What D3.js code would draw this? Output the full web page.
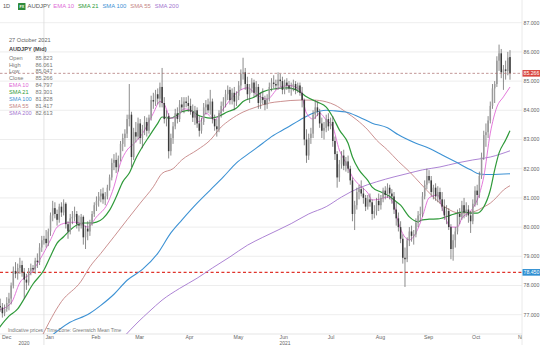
<!DOCTYPE html>
<html>
<head>
<meta charset="utf-8">
<script src="https://cdn.jsdelivr.net/npm/d3@7"></script>
<style>
  html, body { margin: 0; padding: 0; background: #fff; }
  svg { display: block; font-family: Arial, "Liberation Sans", sans-serif; }
</style>
</head>
<body>
<svg id="chart" width="540" height="345"></svg>
<script>
// ---- AUDJPY daily candles, 3 Dec 2020 - 27 Oct 2021 (weekdays) ----
const symbol = "AUDJPY";
const firstDay = "2020-12-03";
const tickEnd = "2021-11-02";

const opens = [
  // Dec
  77.20,77.30,77.25,77.05,77.20,77.40,77.55,78.00,78.50,78.40,78.60,78.70,78.45,78.20,78.10,78.50,78.60,78.55,78.85,78.80,79.30,
  // Jan
  79.55,79.60,79.45,79.85,80.40,80.65,80.45,80.25,80.70,80.50,80.80,80.10,79.85,80.30,80.35,80.45,80.10,80.05,80.35,79.65,79.95,
  // Feb
  79.85,80.15,80.45,80.75,80.90,81.05,81.15,80.95,81.05,81.35,81.70,82.20,82.30,82.05,82.35,82.85,83.05,83.20,83.70,83.85,
  // Mar
  82.40,83.25,83.10,83.55,83.05,83.35,83.60,83.30,83.75,84.35,84.30,84.55,84.40,84.80,84.25,83.70,83.80,82.60,83.05,83.45,83.90,83.70,84.20,
  // Apr
  84.10,84.30,84.25,84.15,83.95,83.75,84.00,83.55,83.30,83.60,84.10,84.20,84.00,84.30,83.70,83.45,83.35,83.90,84.15,84.30,84.55,84.70,
  // May
  84.35,84.60,84.30,84.50,84.85,85.25,85.30,84.90,84.55,84.75,84.95,84.60,84.80,84.25,84.45,84.35,84.20,84.40,84.80,84.95,84.90,
  // Jun
  84.85,85.05,85.00,84.70,84.95,84.85,84.75,84.80,84.90,84.70,84.85,84.60,84.35,83.00,82.45,83.05,83.20,83.85,84.10,83.95,83.55,83.30,
  // Jul
  83.40,83.70,83.45,83.60,82.95,82.50,81.70,82.15,82.45,82.10,82.25,82.00,81.60,80.45,80.75,81.20,81.30,81.15,81.00,80.70,80.95,80.85,
  // Aug
  80.45,80.55,80.90,80.75,81.00,81.25,81.10,81.35,81.15,81.05,80.60,80.30,80.00,79.60,78.95,78.90,79.55,79.85,79.70,79.75,80.15,80.40,
  // Sep
  80.45,81.05,81.45,81.75,81.60,81.20,81.35,81.05,81.20,80.95,80.70,80.40,80.55,80.00,79.25,79.55,79.85,80.45,80.35,80.75,80.50,80.60,
  // Oct
  80.40,80.20,80.80,81.25,81.10,81.75,82.40,83.15,83.25,83.65,84.15,84.75,84.90,85.70,85.95,85.30,85.40,85.35,85.823
];
const highs = [
  77.45,77.55,77.40,77.35,77.60,77.75,78.10,78.65,78.80,78.75,78.95,78.85,78.60,78.40,78.60,78.75,78.70,78.95,79.10,79.45,79.70,
  79.70,79.90,79.95,80.50,80.90,80.85,80.60,80.80,80.85,80.95,80.85,80.20,80.45,80.55,80.70,80.55,80.40,80.45,80.40,80.05,80.20,
  80.25,80.55,80.85,81.05,81.20,81.30,81.35,81.20,81.45,81.80,82.35,82.50,82.55,82.45,82.95,83.20,83.35,83.85,84.90,83.95,
  83.40,83.60,83.75,83.70,83.50,83.80,83.75,83.85,84.50,84.60,84.70,84.75,84.95,85.45,84.45,84.00,83.90,83.20,83.60,84.05,84.10,84.35,84.45,
  84.45,84.45,84.50,84.40,84.20,84.15,84.10,83.80,83.75,84.25,84.35,84.40,84.70,84.40,83.85,83.70,84.00,84.30,84.45,84.70,84.85,84.80,
  84.75,84.80,84.65,85.00,85.40,85.80,85.45,85.15,84.90,85.10,85.05,85.00,84.90,84.60,84.75,84.50,84.55,84.95,85.10,85.20,85.05,
  85.30,85.25,85.15,85.05,85.10,85.00,84.95,85.05,85.00,84.95,84.95,84.80,84.40,83.35,83.20,83.40,84.00,84.35,84.30,84.05,83.75,83.60,
  83.85,83.90,83.75,83.80,83.10,82.60,82.30,82.60,82.65,82.40,82.45,82.10,81.70,80.90,81.35,81.45,81.60,81.35,81.10,81.10,81.15,80.95,
  80.75,81.00,81.15,81.10,81.35,81.40,81.50,81.45,81.30,81.20,80.85,80.50,80.20,79.75,79.30,79.65,80.00,80.05,79.90,80.30,80.55,80.70,
  81.20,81.60,82.00,81.95,81.75,81.45,81.50,81.40,81.35,81.20,80.95,80.75,80.65,80.10,79.75,80.00,80.60,80.65,80.90,81.00,80.85,80.75,
  80.55,80.95,81.40,81.45,81.90,82.55,83.30,83.55,83.80,84.30,84.90,85.00,85.85,86.25,86.10,85.55,85.70,86.00,86.061
];
const lows = [
  76.95,77.10,76.90,76.95,77.10,77.15,77.35,77.90,78.25,78.20,78.40,78.30,77.55,77.85,78.00,78.35,78.45,78.40,78.60,78.70,79.15,
  79.40,79.30,79.35,79.70,80.20,80.30,80.05,80.15,80.35,80.40,79.95,79.60,79.75,80.10,80.20,79.95,79.85,79.95,79.40,79.25,79.55,
  79.70,80.05,80.35,80.55,80.70,80.85,80.80,80.75,80.95,81.25,81.60,81.95,81.85,81.90,82.25,82.60,82.75,83.05,83.45,82.05,
  82.30,82.90,83.00,82.85,82.70,83.15,83.10,83.20,83.65,84.05,84.15,84.20,84.10,84.10,83.55,83.45,82.35,82.45,82.85,83.35,83.55,83.60,83.95,
  83.90,84.10,83.95,83.85,83.60,83.50,83.40,83.10,83.20,83.50,83.85,83.90,83.85,83.55,83.30,83.10,83.25,83.75,83.95,84.10,84.35,84.20,
  84.20,84.00,84.15,84.35,84.70,85.05,84.70,84.35,84.25,84.60,84.45,84.45,84.05,84.05,84.20,84.00,84.05,84.30,84.65,84.75,84.70,
  84.70,84.80,84.55,84.55,84.70,84.60,84.50,84.65,84.55,84.60,84.50,84.10,82.80,82.20,82.30,82.85,83.05,83.70,83.80,83.40,83.05,83.00,
  83.25,83.30,83.35,82.75,82.30,81.35,81.55,82.00,81.95,81.90,81.85,81.45,80.20,79.90,80.60,80.95,81.05,80.80,80.55,80.60,80.70,80.25,
  80.30,80.40,80.55,80.60,80.85,80.95,81.00,80.95,80.80,80.45,80.05,79.85,79.45,78.75,77.95,78.80,79.35,79.50,79.40,79.65,80.00,80.20,
  80.35,80.95,81.30,81.50,81.05,80.95,80.90,80.85,80.80,80.55,80.25,80.10,79.90,78.90,78.85,79.30,79.75,80.10,80.25,80.30,80.35,80.15,
  79.80,80.10,80.70,80.75,81.00,81.65,82.30,82.75,83.05,83.55,84.05,84.25,84.80,85.35,85.10,84.70,85.05,85.20,85.047
];
const closes = [
  77.30,77.25,77.05,77.20,77.40,77.55,78.00,78.50,78.40,78.60,78.70,78.45,78.20,78.10,78.50,78.60,78.55,78.85,78.80,79.30,79.55,
  79.60,79.45,79.85,80.40,80.65,80.45,80.25,80.70,80.50,80.80,80.10,79.85,80.30,80.35,80.45,80.10,80.05,80.35,79.65,79.95,79.85,
  80.15,80.45,80.75,80.90,81.05,81.15,80.95,81.05,81.35,81.70,82.20,82.30,82.05,82.35,82.85,83.05,83.20,83.70,83.85,82.40,
  83.25,83.10,83.55,83.05,83.35,83.60,83.30,83.75,84.35,84.30,84.55,84.40,84.80,84.25,83.70,83.80,82.60,83.05,83.45,83.90,83.70,84.20,84.10,
  84.30,84.25,84.15,83.95,83.75,84.00,83.55,83.30,83.60,84.10,84.20,84.00,84.30,83.70,83.45,83.35,83.90,84.15,84.30,84.55,84.70,84.35,
  84.60,84.30,84.50,84.85,85.25,85.30,84.90,84.55,84.75,84.95,84.60,84.80,84.25,84.45,84.35,84.20,84.40,84.80,84.95,84.90,84.85,
  85.05,85.00,84.70,84.95,84.85,84.75,84.80,84.90,84.70,84.85,84.60,84.35,83.00,82.45,83.05,83.20,83.85,84.10,83.95,83.55,83.30,83.40,
  83.70,83.45,83.60,82.95,82.50,81.70,82.15,82.45,82.10,82.25,82.00,81.60,80.45,80.75,81.20,81.30,81.15,81.00,80.70,80.95,80.85,80.45,
  80.55,80.90,80.75,81.00,81.25,81.10,81.35,81.15,81.05,80.60,80.30,80.00,79.60,78.95,78.90,79.55,79.85,79.70,79.75,80.15,80.40,80.45,
  81.05,81.45,81.75,81.60,81.20,81.35,81.05,81.20,80.95,80.70,80.40,80.55,80.00,79.25,79.55,79.85,80.45,80.35,80.75,80.50,80.60,80.40,
  80.20,80.80,81.25,81.10,81.75,82.40,83.15,83.25,83.65,84.15,84.75,84.90,85.70,85.95,85.30,85.40,85.35,85.80,85.266
];

// ---- moving averages, [date, level] ----
const ema10 = [
  ["2020-12-03",77.15],["2020-12-11",77.40],["2020-12-17",78.10],["2020-12-24",78.42],["2020-12-30",78.87],
  ["2021-01-06",79.56],["2021-01-11",80.00],["2021-01-15",80.14],["2021-01-22",80.17],["2021-01-29",80.00],
  ["2021-02-04",80.35],["2021-02-11",80.80],["2021-02-16",81.38],["2021-02-19",82.20],["2021-02-24",82.64],
  ["2021-03-01",82.85],["2021-03-05",83.20],["2021-03-12",83.90],["2021-03-17",84.30],["2021-03-19",84.20],
  ["2021-03-24",83.73],["2021-03-29",83.77],["2021-04-01",84.05],["2021-04-07",83.95],["2021-04-12",83.60],
  ["2021-04-15",83.90],["2021-04-21",83.67],["2021-04-26",83.95],["2021-04-30",84.35],["2021-05-06",84.65],
  ["2021-05-12",84.77],["2021-05-18",84.55],["2021-05-25",84.38],["2021-06-01",84.75],["2021-06-08",84.85],
  ["2021-06-15",84.70],["2021-06-18",83.90],["2021-06-23",83.70],["2021-06-28",83.90],["2021-07-01",83.67],
  ["2021-07-06",83.43],["2021-07-09",82.64],["2021-07-14",82.20],["2021-07-19",81.72],["2021-07-22",81.45],
  ["2021-07-28",81.17],["2021-07-30",80.93],["2021-08-04",80.95],["2021-08-10",81.03],["2021-08-13",80.75],
  ["2021-08-17",80.15],["2021-08-24",79.56],["2021-08-27",79.80],["2021-09-01",80.35],["2021-09-06",81.00],
  ["2021-09-10",81.10],["2021-09-14",80.65],["2021-09-20",80.00],["2021-09-23",80.00],["2021-09-27",80.30],
  ["2021-10-01",80.55],["2021-10-06",80.93],["2021-10-11",81.72],["2021-10-14",83.22],["2021-10-19",84.11],
  ["2021-10-22",84.46],["2021-10-27",84.797]
];
const sma21 = [
  ["2020-12-03",76.50],["2020-12-10",76.95],["2020-12-16",77.20],["2020-12-21",77.55],["2020-12-25",78.05],
  ["2021-01-01",78.53],["2021-01-06",79.00],["2021-01-11",79.45],["2021-01-14",79.67],["2021-01-19",79.90],
  ["2021-01-22",80.07],["2021-01-27",80.14],["2021-02-01",80.14],["2021-02-04",80.17],["2021-02-09",80.30],
  ["2021-02-12",80.58],["2021-02-17",81.03],["2021-02-22",81.55],["2021-02-25",81.85],["2021-03-02",82.35],
  ["2021-03-05",82.75],["2021-03-10",83.10],["2021-03-16",83.55],["2021-03-18",83.77],["2021-03-24",83.73],
  ["2021-03-29",83.85],["2021-03-31",83.95],["2021-04-06",84.00],["2021-04-09",83.85],["2021-04-14",83.77],
  ["2021-04-19",83.73],["2021-04-22",83.77],["2021-04-29",83.95],["2021-05-05",84.08],["2021-05-10",84.30],
  ["2021-05-17",84.45],["2021-05-21",84.63],["2021-05-28",84.73],["2021-06-07",84.77],["2021-06-15",84.63],
  ["2021-06-18",84.46],["2021-06-25",84.28],["2021-07-01",84.11],["2021-07-06",83.77],["2021-07-09",83.33],
  ["2021-07-15",82.87],["2021-07-19",82.40],["2021-07-22",81.96],["2021-07-28",81.60],["2021-07-30",81.37],
  ["2021-08-05",81.20],["2021-08-10",81.10],["2021-08-13",80.93],["2021-08-18",80.75],["2021-08-24",80.35],
  ["2021-08-30",80.18],["2021-09-01",80.25],["2021-09-06",80.27],["2021-09-10",80.28],["2021-09-14",80.31],
  ["2021-09-20",80.41],["2021-09-23",80.48],["2021-09-28",80.52],["2021-10-01",80.48],["2021-10-06",80.48],
  ["2021-10-11",80.69],["2021-10-14",81.27],["2021-10-18",81.96],["2021-10-20",82.54],["2021-10-25",82.98],
  ["2021-10-27",83.301]
];
const sma100 = [
  ["2020-12-31",76.00],["2021-01-18",76.70],["2021-02-01",77.05],["2021-02-08",77.32],["2021-02-16",77.70],
  ["2021-02-24",78.18],["2021-03-05",78.55],["2021-03-16",79.10],["2021-03-24",79.80],["2021-03-31",80.24],
  ["2021-04-09",80.82],["2021-04-19",81.27],["2021-04-27",81.72],["2021-05-05",82.20],["2021-05-13",82.54],
  ["2021-05-21",82.87],["2021-05-27",83.10],["2021-06-07",83.40],["2021-06-15",83.67],["2021-06-23",83.90],
  ["2021-07-01",84.00],["2021-07-07",83.98],["2021-07-14",83.94],["2021-07-22",83.77],["2021-07-30",83.56],
  ["2021-08-10",83.40],["2021-08-17",83.16],["2021-08-27",82.87],["2021-09-06",82.70],["2021-09-14",82.47],
  ["2021-09-23",82.20],["2021-10-01",81.96],["2021-10-07",81.82],["2021-10-14",81.80],["2021-10-27",81.828]
];
const sma55 = [
  ["2020-12-31",76.25],["2021-01-13",77.45],["2021-01-26",78.15],["2021-02-01",78.64],["2021-02-08",79.10],
  ["2021-02-16",79.67],["2021-02-24",80.25],["2021-03-04",80.82],["2021-03-12",81.38],["2021-03-18",81.84],
  ["2021-03-25",82.00],["2021-03-31",82.30],["2021-04-09",82.64],["2021-04-19",82.98],["2021-04-26",83.43],
  ["2021-04-30",83.67],["2021-05-10",83.94],["2021-05-18",84.11],["2021-05-26",84.25],["2021-06-02",84.30],
  ["2021-06-15",84.35],["2021-06-23",84.35],["2021-07-01",84.29],["2021-07-07",84.18],["2021-07-14",83.94],
  ["2021-07-21",83.67],["2021-07-28",83.33],["2021-08-03",82.98],["2021-08-10",82.64],["2021-08-17",82.25],
  ["2021-08-24",81.90],["2021-08-31",81.50],["2021-09-08",81.03],["2021-09-16",80.65],["2021-09-24",80.48],
  ["2021-10-04",80.52],["2021-10-11",80.69],["2021-10-14",80.82],["2021-10-19",81.03],["2021-10-22",81.27],
  ["2021-10-27",81.417]
];
const sma200 = [
  ["2021-02-22",76.20],["2021-03-03",76.75],["2021-03-10",77.10],["2021-03-18",77.50],["2021-03-30",77.90],
  ["2021-04-09",78.25],["2021-04-20",78.60],["2021-04-30",78.98],["2021-05-12",79.38],["2021-05-21",79.65],
  ["2021-06-01",79.90],["2021-06-09",80.12],["2021-06-21",80.45],["2021-07-01",80.70],["2021-07-12",81.03],
  ["2021-07-22",81.34],["2021-08-03",81.55],["2021-08-13",81.72],["2021-08-24",81.85],["2021-09-01",81.96],
  ["2021-09-13",82.06],["2021-09-23",82.20],["2021-10-04",82.30],["2021-10-14",82.40],["2021-10-27",82.613]
];

const priceTicks = [77, 78, 79, 80, 81, 82, 83, 84, 85, 86, 87];
const alertLevel = 78.450;
const crosshairLabel = "27 October 2021";

const studies = [
  { name: "EMA 10",  data: ema10,  color: "#e06ad6", width: 0.9 },
  { name: "SMA 21",  data: sma21,  color: "#2f9a3a", width: 1.2 },
  { name: "SMA 100", data: sma100, color: "#3d92d4", width: 1.1 },
  { name: "SMA 55",  data: sma55,  color: "#c58585", width: 0.9 },
  { name: "SMA 200", data: sma200, color: "#a476cf", width: 0.9 }
];

// ---- trading calendar (weekdays) ----
const parse = d3.utcParse("%Y-%m-%d");
const key = d3.utcFormat("%Y-%m-%d");
const calendar = d3.utcDay.range(parse(firstDay), parse(tickEnd))
  .filter(d => d.getUTCDay() !== 0 && d.getUTCDay() !== 6);
const dayIndex = new Map(calendar.map((d, i) => [key(d), i]));

const candles = closes.map((c, i) => ({ i, o: opens[i], h: highs[i], l: lows[i], c }));

// ---- layout ----
const W = 540, H = 345;
const plot = { left: 0, right: 522, top: 10, bottom: 334 };

const x = d3.scaleLinear().domain([0, closes.length - 1]).range([-2, 510]);
const y = d3.scaleLinear().domain([77, 87]).range([314.7, 22.7]);

const svg = d3.select("#chart");
const defs = svg.append("defs");
defs.append("clipPath").attr("id", "plotClip").append("rect")
  .attr("x", plot.left).attr("y", plot.top)
  .attr("width", plot.right - plot.left).attr("height", plot.bottom - plot.top);
defs.append("clipPath").attr("id", "axisClip").append("rect")
  .attr("x", 0).attr("y", plot.bottom).attr("width", plot.right).attr("height", H - plot.bottom);

// horizontal grid
svg.append("g").selectAll("line").data(priceTicks).join("line")
  .attr("x1", plot.left).attr("x2", plot.right)
  .attr("y1", d => y(d)).attr("y2", d => y(d))
  .attr("stroke", "#e9e9e9").attr("stroke-width", 0.8);

// month starts
const monthStarts = calendar.map((d, i) => ({ d, i }))
  .filter((o, k, arr) => k === 0 || o.d.getUTCMonth() !== arr[k - 1].d.getUTCMonth());
const yearStart = monthStarts.find(o => o.d.getUTCMonth() === 0);

// year separator
svg.append("line")
  .attr("x1", x(yearStart.i)).attr("x2", x(yearStart.i))
  .attr("y1", plot.top - 2).attr("y2", H)
  .attr("stroke", "#dcdcdc").attr("stroke-width", 0.8);

// right edge of plot
svg.append("line")
  .attr("x1", plot.right).attr("x2", plot.right)
  .attr("y1", 0).attr("y2", H)
  .attr("stroke", "#e4e4e4").attr("stroke-width", 0.8);

// x-axis band top
svg.append("line")
  .attr("x1", 0).attr("x2", plot.right)
  .attr("y1", plot.bottom).attr("y2", plot.bottom)
  .attr("stroke", "#dedede").attr("stroke-width", 0.8);

const body = svg.append("g").attr("clip-path", "url(#plotClip)");

// alert level
body.append("line")
  .attr("x1", plot.left).attr("x2", plot.right)
  .attr("y1", y(alertLevel)).attr("y2", y(alertLevel))
  .attr("stroke", "#e0342c").attr("stroke-width", 1.3).attr("stroke-dasharray", "3,2.4");

// moving averages
const line = d3.line()
  .x(d => x(dayIndex.get(d[0])))
  .y(d => y(d[1]))
  .curve(d3.curveMonotoneX);
body.append("g").selectAll("path").data(studies.slice().reverse()).join("path")
  .attr("d", s => line(s.data))
  .attr("fill", "none")
  .attr("stroke", s => s.color)
  .attr("stroke-width", s => s.width);

// candles
const cg = body.append("g");
cg.selectAll("line").data(candles).join("line")
  .attr("x1", d => x(d.i)).attr("x2", d => x(d.i))
  .attr("y1", d => y(d.h)).attr("y2", d => y(d.l))
  .attr("stroke", "#5a5a5a").attr("stroke-width", 0.7);
cg.selectAll("rect").data(candles).join("rect")
  .attr("x", d => x(d.i) - 0.75)
  .attr("width", 1.5)
  .attr("y", d => Math.min(y(d.o), y(d.c)))
  .attr("height", d => Math.max(0.7, Math.abs(y(d.o) - y(d.c))))
  .attr("fill", d => d.c >= d.o ? "#9a9a9a" : "#3a3a3a");

// last price line
const last = candles[candles.length - 1];
body.append("line")
  .attr("x1", plot.left).attr("x2", plot.right)
  .attr("y1", y(last.c)).attr("y2", y(last.c))
  .attr("stroke", "#a86a6a").attr("stroke-width", 0.7).attr("stroke-dasharray", "2.5,2");

// y axis labels
const fmt = d3.format(".3f");
svg.append("g").selectAll("text").data(priceTicks).join("text")
  .attr("x", plot.right + 1.5).attr("y", d => y(d) + 1.8)
  .attr("font-size", 5.2).attr("fill", "#666")
  .text(d => fmt(d));

// price tags
function tag(v, color) {
  const g = svg.append("g");
  g.append("rect").attr("x", plot.right + 0.5).attr("y", y(v) - 3.3)
    .attr("width", W - plot.right).attr("height", 6.6).attr("fill", color);
  g.append("text").attr("x", plot.right + 1.5).attr("y", y(v) + 1.9)
    .attr("font-size", 5.2).attr("fill", "#fff").text(fmt(v));
}
tag(last.c, "#d9473f");
tag(alertLevel, "#2f8fd2");

// x axis labels
const monthFmt = d3.utcFormat("%b");
const ax = svg.append("g").attr("clip-path", "url(#axisClip)");
ax.selectAll("text.month").data(monthStarts).join("text")
  .attr("class", "month")
  .attr("x", o => Math.max(2, x(o.i) + 1.5)).attr("y", 339.0)
  .attr("font-size", 5.2).attr("fill", "#666")
  .text(o => monthFmt(o.d));
const years = [
  { label: d3.utcFormat("%Y")(calendar[0]), from: 0, to: x(yearStart.i) },
  { label: d3.utcFormat("%Y")(yearStart.d), from: x(yearStart.i), to: plot.right }
];
ax.selectAll("text.year").data(years).join("text")
  .attr("class", "year")
  .attr("x", o => (o.from + o.to) / 2 + 2).attr("y", 344.6)
  .attr("text-anchor", "middle")
  .attr("font-size", 5.0).attr("fill", "#666")
  .text(o => o.label);

// footer notes
svg.append("text").attr("x", 8).attr("y", 331.6)
  .attr("font-size", 4.9).attr("fill", "#777").text("Indicative prices");
svg.append("text").attr("x", 46.5).attr("y", 331.6)
  .attr("font-size", 4.9).attr("fill", "#777").text("Time Zone: Greenwich Mean Time");

// header
const header = svg.append("g");
header.append("text").attr("x", 3).attr("y", 8.3)
  .attr("font-size", 5.6).attr("fill", "#555").text("1D");
header.append("rect").attr("x", 18).attr("y", 3).attr("width", 7.5).attr("height", 7)
  .attr("fill", "#2e8b3a").attr("rx", 0.6);
header.append("text").attr("x", 21.75).attr("y", 7.9).attr("text-anchor", "middle")
  .attr("font-size", 3.6).attr("font-weight", "bold").attr("fill", "#fff").text("FX");
let hx = 27.5;
const symText = header.append("text").attr("x", hx).attr("y", 8.3)
  .attr("font-size", 5.9).attr("fill", "#555").text(symbol);
hx += symText.node().getComputedTextLength() + 2.6;
studies.forEach(s => {
  const t = header.append("text").attr("x", hx).attr("y", 8.3)
    .attr("font-size", 5.9).attr("fill", s.color).text(s.name);
  hx += t.node().getComputedTextLength() + 3.9;
});

// data window
const dw = svg.append("g");
dw.append("text").attr("x", 9).attr("y", 41.9)
  .attr("font-size", 5.6).attr("fill", "#666").text(crosshairLabel);
dw.append("text").attr("x", 9).attr("y", 51.2)
  .attr("font-size", 5.6).attr("font-weight", "bold").attr("fill", "#444").text(symbol + " (Mid)");
const rows = [
  { name: "Open",  v: last.o, color: "#777" },
  { name: "High",  v: last.h, color: "#777" },
  { name: "Low",   v: last.l, color: "#777" },
  { name: "Close", v: last.c, color: "#777" },
  ...studies.map(s => ({ name: s.name, v: s.data[s.data.length - 1][1], color: s.color }))
];
rows.forEach((r, k) => {
  const ry = 59.7 + k * 6.88;
  dw.append("text").attr("x", 9).attr("y", ry)
    .attr("font-size", 5.6).attr("fill", r.color).text(r.name);
  dw.append("text").attr("x", 52.5).attr("y", ry).attr("text-anchor", "end")
    .attr("font-size", 5.6).attr("fill", "#777").text(fmt(r.v));
});
</script>
</body>
</html>
